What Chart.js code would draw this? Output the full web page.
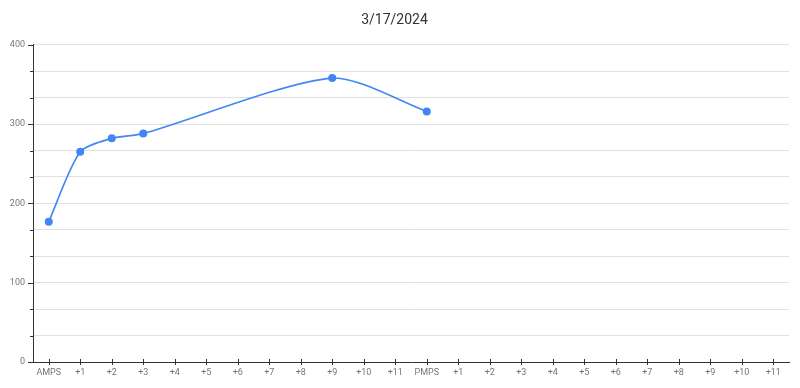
<!DOCTYPE html>
<html>
<head>
<meta charset="utf-8">
<script src="https://cdn.jsdelivr.net/npm/chart.js@4"></script>
<style>
  html, body { margin: 0; padding: 0; background: #fff; }
</style>
</head>
<body>
<canvas id="lineChart" width="800" height="388"></canvas>
<script>
var labels = ['AMPS', '+1', '+2', '+3', '+4', '+5', '+6', '+7', '+8', '+9', '+10', '+11',
              'PMPS', '+1', '+2', '+3', '+4', '+5', '+6', '+7', '+8', '+9', '+10', '+11'];
var values = [177, 265, 282, 288, null, null, null, null, null, 358, null, null,
              316, null, null, null, null, null, null, null, null, null, null, null];
var yTicks = [0, 100, 200, 300, 400];

// small tick marks across both axes
var axisTicks = {
    id: 'axisTicks',
    afterDraw: function (chart) {
        var ctx = chart.ctx;
        var x = chart.scales.x, y = chart.scales.y;
        ctx.save();
        ctx.strokeStyle = '#333';
        ctx.lineWidth = 1;
        ctx.beginPath();
        x.ticks.forEach(function (t, i) {
            var px = Math.round(x.getPixelForTick(i)) + 0.5;
            ctx.moveTo(px, y.bottom - 3);
            ctx.lineTo(px, y.bottom + 3);
        });
        y.ticks.forEach(function (t, i) {
            var py = Math.round(y.getPixelForTick(i)) + 0.5;
            var major = yTicks.some(function (v) { return Math.abs(v - t.value) < 0.01; });
            ctx.moveTo(x.left - (major ? 5 : 3), py);
            ctx.lineTo(x.left + 1, py);
        });
        ctx.stroke();
        ctx.restore();
    }
};

var ctx = document.getElementById('lineChart');
var myLineChart = new Chart(ctx, {
    type: 'line',
    data: {
        labels: labels,
        datasets: [{
            label: '3/17/2024',
            data: values,
            borderColor: '#4285F4',
            backgroundColor: '#4285F4',
            borderWidth: 1.6,
            pointRadius: 4,
            pointHoverRadius: 4,
            pointBorderWidth: 0,
            tension: 0.25,
            spanGaps: true,
            fill: false
        }]
    },
    plugins: [axisTicks],
    options: {
        responsive: false,
        animation: false,
        devicePixelRatio: 1,
        layout: {
            padding: { left: 0, right: 11, top: 0, bottom: 0 }
        },
        plugins: {
            legend: { display: false },
            tooltip: { enabled: false },
            title: {
                display: true,
                text: '3/17/2024',
                color: '#333',
                font: { family: 'Roboto', size: 14, weight: 'normal' },
                padding: { top: 12, bottom: 16 }
            }
        },
        scales: {
            x: {
                offset: true,
                afterFit: function (scale) { scale.height = 26; },
                grid: { display: false, drawTicks: false },
                border: { display: true, color: '#333', width: 1 },
                ticks: {
                    autoSkip: false,
                    maxRotation: 0,
                    padding: 5,
                    color: '#757575',
                    font: { family: 'Roboto', size: 9 }
                }
            },
            y: {
                min: 0,
                max: 400,
                afterFit: function (scale) { scale.width = 33; },
                grid: { color: '#e0e0e0', drawTicks: false },
                border: { display: true, color: '#333', width: 1 },
                ticks: {
                    stepSize: 100 / 3,
                    padding: 8,
                    color: '#757575',
                    font: { family: 'Roboto', size: 9 },
                    callback: function (v) {
                        var r = Math.round(v);
                        return yTicks.indexOf(r) >= 0 && Math.abs(v - r) < 0.01 ? r : '';
                    }
                }
            }
        }
    }
});
</script>
</body>
</html>
